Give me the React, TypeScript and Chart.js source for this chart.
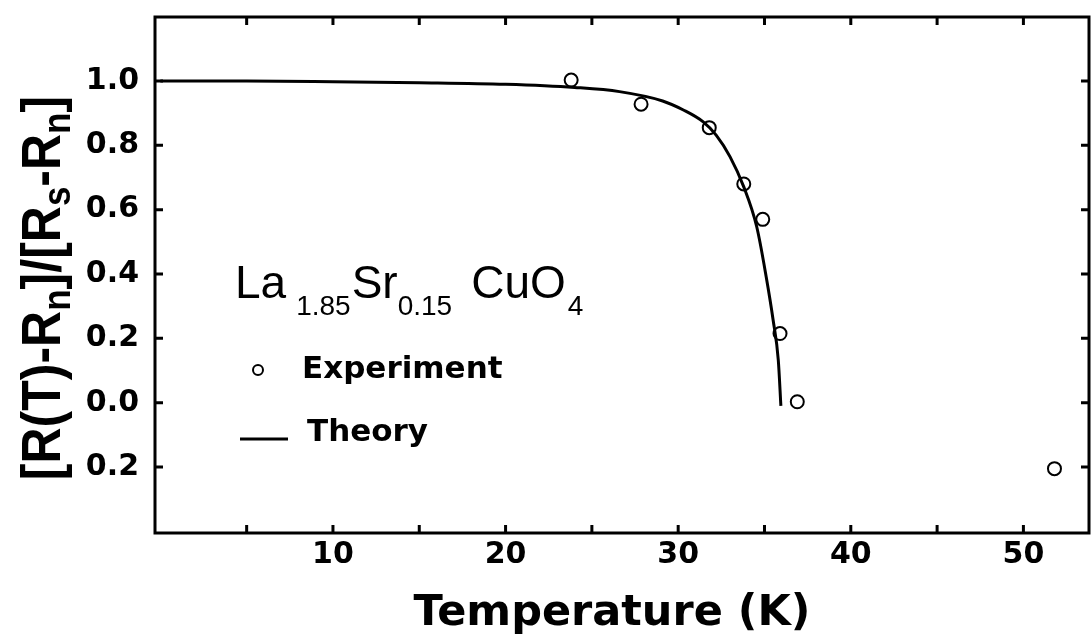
import React, { useEffect, useRef } from "react";
import { Chart, registerables } from "chart.js";

Chart.register(...registerables);

// ---- Data ----
const theoryT = [0, 5, 10, 15, 20, 24, 26.6, 29.1, 30.3, 31.45, 32.2, 33.0, 33.8, 34.55, 35.1, 35.5, 35.8, 35.95];
const theoryR = [1.0, 1.0, 0.998, 0.995, 0.99, 0.98, 0.967, 0.938, 0.91, 0.873, 0.832, 0.765, 0.671, 0.547, 0.391, 0.257, 0.132, -0.01];

const expT = [23.8, 27.85, 31.8, 33.8, 34.9, 35.9, 36.9, 51.8];
const expR = [1.003, 0.928, 0.855, 0.68, 0.57, 0.215, 0.003, -0.205];

const xTickValues = [5, 10, 15, 20, 25, 30, 35, 40, 45, 50];
const xTickLabels = ["", "10", "", "20", "", "30", "", "40", "", "50"];
const yTickValues = [-0.2, 0, 0.2, 0.4, 0.6, 0.8, 1.0];
const yTickLabels = ["0.2", "0.0", "0.2", "0.4", "0.6", "0.8", "1.0"];

const xTitle = "Temperature (K)";
const legendExperiment = "Experiment";
const legendTheory = "Theory";

const FONT = "'Liberation Sans', Arial, Helvetica, sans-serif";
const WIDE = "'DejaVu Sans', 'Liberation Sans', Arial, sans-serif";

const decorPlugin = {
  id: "decor",
  afterDraw(chart: any) {
    const ctx: CanvasRenderingContext2D = chart.ctx;
    const { left, right, top, bottom } = chart.chartArea;
    const xs = chart.scales.x;
    const ys = chart.scales.y;
    ctx.save();
    ctx.strokeStyle = "#000";
    ctx.fillStyle = "#000";
    // frame
    ctx.lineWidth = 3;
    ctx.strokeRect(left, top, right - left, bottom - top);
    // inward ticks
    const tl = 8;
    ctx.beginPath();
    xTickValues.forEach((v) => {
      const px = xs.getPixelForValue(v);
      ctx.moveTo(px, bottom);
      ctx.lineTo(px, bottom - tl);
      ctx.moveTo(px, top);
      ctx.lineTo(px, top + tl);
    });
    yTickValues.forEach((v) => {
      const py = ys.getPixelForValue(v);
      ctx.moveTo(left, py);
      ctx.lineTo(left + tl, py);
      ctx.moveTo(right, py);
      ctx.lineTo(right - tl, py);
    });
    ctx.stroke();

    // x title
    ctx.font = `bold 43px ${WIDE}`;
    ctx.textAlign = "center";
    ctx.textBaseline = "alphabetic";
    ctx.fillText(xTitle, 612, 625);

    // y title with subscripts, rotated
    const segs: [string, boolean][] = [
      ["[R(T)-R", false],
      ["n", true],
      ["]/[R", false],
      ["s", true],
      ["-R", false],
      ["n", true],
      ["]", false],
    ];
    const mainF = `bold 50px ${FONT}`;
    const subF = `bold 35px ${FONT}`;
    let total = 0;
    segs.forEach(([t, s]) => {
      ctx.font = s ? subF : mainF;
      total += ctx.measureText(t).width;
    });
    ctx.save();
    ctx.translate(60, 288);
    ctx.rotate(-Math.PI / 2);
    ctx.scale(1, 1.12);
    ctx.textAlign = "left";
    let cx = -total / 2;
    segs.forEach(([t, s]) => {
      ctx.font = s ? subF : mainF;
      ctx.fillText(t, cx, s ? 9 : 0);
      cx += ctx.measureText(t).width;
    });
    ctx.restore();

    // formula label
    ctx.textAlign = "left";
    const fMain = `46px ${FONT}`;
    const fSub = `28px ${FONT}`;
    let x = 235;
    const put = (t: string, sub: boolean, gapAfter: number) => {
      ctx.font = sub ? fSub : fMain;
      ctx.fillText(t, x, sub ? 315 : 298);
      x += ctx.measureText(t).width + gapAfter;
    };
    put("La", false, 10);
    put("1.85", true, 1);
    put("Sr", false, 0);
    put("0.15", true, 19);
    put("CuO", false, 2);
    put("4", true, 0);

    // legend
    ctx.lineWidth = 2;
    ctx.beginPath();
    ctx.arc(258, 370, 5, 0, Math.PI * 2);
    ctx.stroke();
    ctx.font = `bold 31px ${WIDE}`;
    ctx.fillText(legendExperiment, 302, 378);
    ctx.fillText(legendTheory, 307, 441);
    ctx.lineWidth = 3;
    ctx.beginPath();
    ctx.moveTo(240, 439);
    ctx.lineTo(288, 439);
    ctx.stroke();
    ctx.restore();
  },
};

export default function App() {
  const ref = useRef<HTMLCanvasElement | null>(null);
  useEffect(() => {
    if (!ref.current) return;
    const tickFont = { family: WIDE, size: 30, weight: "bold" as const };
    const chart = new Chart(ref.current, {
      type: "scatter",
      data: {
        datasets: [
          {
            label: legendTheory,
            data: theoryT.map((t, i) => ({ x: t, y: theoryR[i] })),
            showLine: true,
            borderColor: "#000",
            borderWidth: 3,
            pointRadius: 0,
            cubicInterpolationMode: "monotone",
            fill: false,
          },
          {
            label: legendExperiment,
            data: expT.map((t, i) => ({ x: t, y: expR[i] })),
            showLine: false,
            borderColor: "#000",
            backgroundColor: "rgba(0,0,0,0)",
            borderWidth: 2,
            pointRadius: 6.5,
            pointStyle: "circle",
          },
        ],
      },
      options: {
        animation: false,
        responsive: false,
        maintainAspectRatio: false,
        devicePixelRatio: 1,
        layout: { autoPadding: false, padding: { top: 17, right: 2, left: 0, bottom: 0 } },
        plugins: { legend: { display: false }, tooltip: { enabled: false }, title: { display: false } },
        scales: {
          x: {
            type: "linear",
            min: -0.31,
            max: 53.8,
            afterBuildTicks: (s: any) => {
              s.ticks = xTickValues.map((v) => ({ value: v }));
            },
            afterFit: (s: any) => {
              s.height = 103;
              s.paddingLeft = 0;
              s.paddingRight = 0;
            },
            ticks: {
              autoSkip: false,
              maxRotation: 0,
              color: "#000",
              font: tickFont,
              padding: 4,
              callback: (_v: any, i: number) => xTickLabels[i],
            },
            grid: { display: false, drawTicks: false },
            border: { display: false },
          },
          y: {
            type: "linear",
            min: -0.405,
            max: 1.199,
            afterBuildTicks: (s: any) => {
              s.ticks = yTickValues.map((v) => ({ value: v }));
            },
            afterFit: (s: any) => {
              s.width = 155;
              s.paddingTop = 0;
              s.paddingBottom = 0;
            },
            ticks: {
              autoSkip: false,
              color: "#000",
              font: tickFont,
              padding: 16,
              callback: (_v: any, i: number) => yTickLabels[i],
            },
            grid: { display: false, drawTicks: false },
            border: { display: false },
          },
        },
      },
      plugins: [decorPlugin],
    });
    return () => chart.destroy();
  }, []);
  return (
    <div style={{ position: "fixed", left: 0, top: 0, width: 1091, height: 636, background: "#fff" }}>
      <canvas ref={ref} width={1091} height={636} style={{ display: "block" }} />
    </div>
  );
}
